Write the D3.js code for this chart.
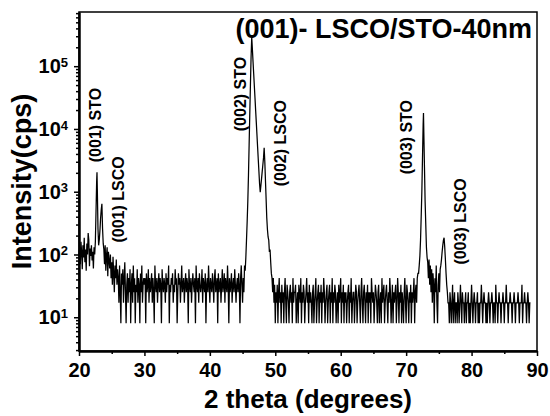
<!DOCTYPE html>
<html>
<head>
<meta charset="utf-8">
<script src="https://cdn.jsdelivr.net/npm/d3@7"></script>
<style>
  body { margin: 0; background: #fff; }
  svg { font-family: "Liberation Sans", Arial, sans-serif; font-weight: bold; }
</style>
</head>
<body>
<div id="chart"></div>
<script>
// XRD scan, intensity in cps
var scanStep = 0.1;

// low angle background 20.0 - 22.4
var bg1Start = 20.0;
var bg1 = [95,130,70,160,110,58,140,90,185,75,120,55,150,100,220,170,65,125,95,140,80,110,60,130,100];

// (001) STO / LSCO peaks
var peak001X = [22.5,22.6,22.7,22.75,22.8,22.9,23.0,23.1,23.2,23.3,23.4,23.5,23.6,23.7];
var peak001Y = [160,480,1500,2050,1100,260,140,170,240,380,520,640,260,150];

// background 23.8 - 45.3
var bg2Start = 23.8;
var bg2 = [120,70,140,55,95,130,45,110,80,60,100,42,
  75,33,92,50,25,67,42,83,33,58,
  42,17,67,25,8,50,33,58,17,42, 75,25,8,33,50,17,42,25,58,8,
  33,50,17,67,25,42,8,33,25,58, 17,42,33,8,50,25,67,17,33,42,
  33,42,8,50,25,33,58,17,42,25, 33,50,17,42,25,8,67,33,25,42,
  17,33,50,25,42,33,8,58,33,25, 42,33,17,50,25,42,33,67,8,33,
  25,42,33,50,17,33,25,58,33,42, 8,25,50,33,42,17,33,67,25,33,
  42,17,33,50,25,42,33,8,58,33, 25,42,17,33,50,33,25,42,8,67,
  33,25,42,17,50,33,25,33,58,17, 42,33,25,50,8,33,42,25,67,33,
  17,42,33,25,50,33,17,42,58,25, 33,42,8,50,25,33,42,17,33,58,
  25,33,50,17,42,33,25,67,33,8, 42,25,33,50,17,33,42,25,58,33,
  17,33,42,25,50,33,8,42,67,33,
  17,42,25,67];

// (002) STO / LSCO peaks
var peak002X = [45.4,45.5,45.6,45.7,45.8,45.9,46.0,46.1,46.2,46.3,46.4,46.5,46.6,46.7,
  46.8,46.9,47.0,47.1,47.2,47.3,47.4,47.5,47.6,47.7,47.8,47.9,48.0,48.1,48.2,48.3,
  48.4,48.5,48.6,48.7,48.8,48.9,49.0,49.1,49.2,49.3,49.4,49.5];
var peak002Y = [55,90,170,330,700,1800,5500,17000,50000,140000,290000,186000,118000,76000,
  48000,31000,19600,12600,8000,5100,3250,2080,1330,980,1260,1620,2090,2690,3460,5000,
  3000,1500,750,380,250,190,170,110,120,75,50,42];

// background 49.6 - 71.8
var bg3Start = 49.6;
var bg3 = [25,42,17,33,
  8,25,17,33,8,25,42,17,25,8, 33,17,25,8,25,42,17,8,33,25,
  17,8,25,33,17,25,8,42,17,25, 25,33,8,17,25,8,33,25,17,42,
  8,25,17,33,25,8,17,25,42,17, 25,8,33,17,25,17,8,25,33,8,
  17,25,42,8,17,25,33,8,25,17, 33,8,25,17,42,25,8,17,25,33,
  8,17,25,33,8,25,17,42,8,25, 17,33,25,8,17,25,8,33,17,25,
  42,8,25,17,33,8,25,17,25,8, 17,25,33,8,25,17,42,8,17,25,
  25,8,17,33,25,8,17,25,33,17, 8,25,42,17,8,25,33,17,8,25,
  17,33,8,25,17,25,8,42,25,17, 25,8,17,33,25,17,8,25,33,8,
  17,25,8,42,17,25,33,8,17,25, 33,17,8,25,17,42,25,8,17,33,
  8,25,17,25,33,8,17,42,25,8, 25,17,33,8,25,17,8,25,42,17,
  8,33,25,17,8,25,17,33,8,25,
  17,25,42,8,25,33,17,42,50];

// (003) STO / LSCO peaks
var peak003X = [71.9,72.0,72.1,72.2,72.3,72.4,72.5,72.6,72.65,72.7,72.8,72.9,73.0,73.1,73.2,
  73.3,73.4,73.5,73.6,73.7,73.8,73.9,74.0,74.1,74.2,74.3,74.4,74.5,74.6,74.7,74.8,74.9,75.0,75.1,75.2,
  75.3,75.4,75.5,75.6,75.7,75.8,75.9,76.0,76.1,76.2,76.3,76.4];
var peak003Y = [50,67,95,170,400,1000,3500,12000,18000,9000,2500,700,300,130,90,
  75,42,83,33,67,25,58,17,50,33,8,42,25,67,17,8,33,50,25,58,
  67,83,110,140,170,185,130,83,50,33,25,17];

// high angle background 76.5 - 89.0
var bg4Start = 76.5;
var bg4 = [17,8,25,17,8,17,33,8,17,25, 8,17,17,8,25,17,8,17,33,17,
  8,25,17,17,8,17,25,8,17,17, 25,8,17,8,17,33,17,8,17,25,
  17,8,17,17,25,8,17,8,17,17, 33,17,8,17,25,17,17,8,17,8,
  17,25,17,8,17,17,25,17,8,17, 17,8,33,17,17,8,17,25,17,17,
  8,17,17,25,17,8,17,17,33,17, 17,8,17,17,25,17,17,8,17,17,
  25,17,8,17,17,17,25,17,8,17, 17,17,33,8,17,17,25,17,17,8,
  17,25,17,8,17,17];

// peak annotations: text, 2theta and cps where the label starts
var peakLabelText  = ["(001) STO", "(001) LSCO", "(002) STO", "(002) LSCO", "(003) STO", "(003) LSCO"];
var peakLabelAngle = [23.36, 26.88, 45.52, 51.64, 70.89, 79.15];
var peakLabelCps   = [2950, 155, 9200, 1220, 1890, 69];

var xTicks = [20, 30, 40, 50, 60, 70, 80, 90];
var xMinorTicks = [25, 35, 45, 55, 65, 75, 85];
var yMajorTicks = [10, 100, 1000, 10000, 100000];

var titleText = "(001)- LSCO/STO-40nm";
var xTitle = "2 theta (degrees)";
var yTitle = "Intensity(cps)";

//
// setup
//
var width = 550, height = 416;
var margin = {top: 12, right: 13, bottom: 65, left: 79};

var x = d3.scaleLinear()
    .domain([20, 90])
    .range([margin.left, width - margin.right]);

var y = d3.scaleLog()
    .domain([2.9, 7.3e5])
    .range([height - margin.bottom, margin.top]);

var svg = d3.select("#chart")
  .append("svg")
  .attr("width", width)
  .attr("height", height);

svg.append("rect")
  .attr("width", width).attr("height", height)
  .attr("fill", "#fff");

// build the scan as one series
function scan(start, values){
  return values.map(function(v, i){ return {x: +(start + i * scanStep).toFixed(2), y: v}; });
}
function pairs(xs, ys){
  return xs.map(function(v, i){ return {x: v, y: ys[i]}; });
}
var data = [].concat(
  scan(bg1Start, bg1), pairs(peak001X, peak001Y),
  scan(bg2Start, bg2), pairs(peak002X, peak002Y),
  scan(bg3Start, bg3), pairs(peak003X, peak003Y),
  scan(bg4Start, bg4));

var line = d3.line()
    .x(function(d){ return x(d.x); })
    .y(function(d){ return y(d.y); });

svg.append("path")
  .datum(data)
  .attr("d", line)
  .attr("fill", "none")
  .attr("stroke", "#000")
  .attr("stroke-width", 1.25);

//
// axes
//
var plotBottom = height - margin.bottom;

// x minor + major
svg.append("g")
  .attr("transform", "translate(0," + plotBottom + ")")
  .call(d3.axisBottom(x).tickValues(xMinorTicks).tickSize(3).tickSizeOuter(0).tickFormat(""));
var gx = svg.append("g")
  .attr("transform", "translate(0," + plotBottom + ")")
  .call(d3.axisBottom(x).tickValues(xTicks).tickSize(5).tickSizeOuter(0).tickPadding(7));
gx.selectAll("text").style("font-size", "20px").attr("fill", "#000");

// y minor + major
var minorY = y.ticks().filter(function(t){ return yMajorTicks.indexOf(t) < 0; });
svg.append("g")
  .attr("transform", "translate(" + margin.left + ",0)")
  .call(d3.axisLeft(y).tickValues(minorY).tickSize(3).tickSizeOuter(0).tickFormat(""));
var gy = svg.append("g")
  .attr("transform", "translate(" + margin.left + ",0)")
  .call(d3.axisLeft(y).tickValues(yMajorTicks).tickSize(5).tickSizeOuter(0).tickFormat(""));

gy.selectAll(".tick").append("text")
  .attr("x", -11)
  .attr("dy", "0.33em")
  .attr("text-anchor", "end")
  .attr("fill", "#000")
  .style("font-size", "20px")
  .each(function(d){
    var t = d3.select(this);
    t.append("tspan").text("10");
    t.append("tspan")
      .attr("dy", "-0.5em")
      .style("font-size", "13px")
      .text(Math.round(Math.log10(d)));
  });

svg.selectAll(".tick line").attr("stroke", "#000").attr("stroke-width", 1.5);
svg.selectAll(".domain").attr("stroke", "#000").attr("stroke-width", 2);
svg.selectAll("g").attr("font-family", null).attr("font-size", null);

// frame
svg.append("rect")
  .attr("x", margin.left).attr("y", margin.top)
  .attr("width", width - margin.left - margin.right)
  .attr("height", plotBottom - margin.top)
  .attr("fill", "none")
  .attr("stroke", "#000")
  .attr("stroke-width", 1.5);

//
// texts
//
svg.selectAll(".peak-label")
  .data(peakLabelText)
  .enter().append("text")
  .attr("class", "peak-label")
  .attr("transform", function(d, i){
    return "translate(" + x(peakLabelAngle[i]) + "," + y(peakLabelCps[i]) + ") rotate(-90)";
  })
  .style("font-size", "16px")
  .text(function(d){ return d; });

svg.append("text")
  .attr("x", width - margin.right - 5)
  .attr("y", 38)
  .attr("text-anchor", "end")
  .style("font-size", "27px")
  .text(titleText);

svg.append("text")
  .attr("x", (margin.left + width - margin.right) / 2)
  .attr("y", 408)
  .attr("text-anchor", "middle")
  .style("font-size", "26px")
  .text(xTitle);

svg.append("text")
  .attr("transform", "translate(31," + (margin.top + plotBottom) / 2 + ") rotate(-90)")
  .attr("text-anchor", "middle")
  .style("font-size", "27px")
  .text(yTitle);
</script>
</body>
</html>
